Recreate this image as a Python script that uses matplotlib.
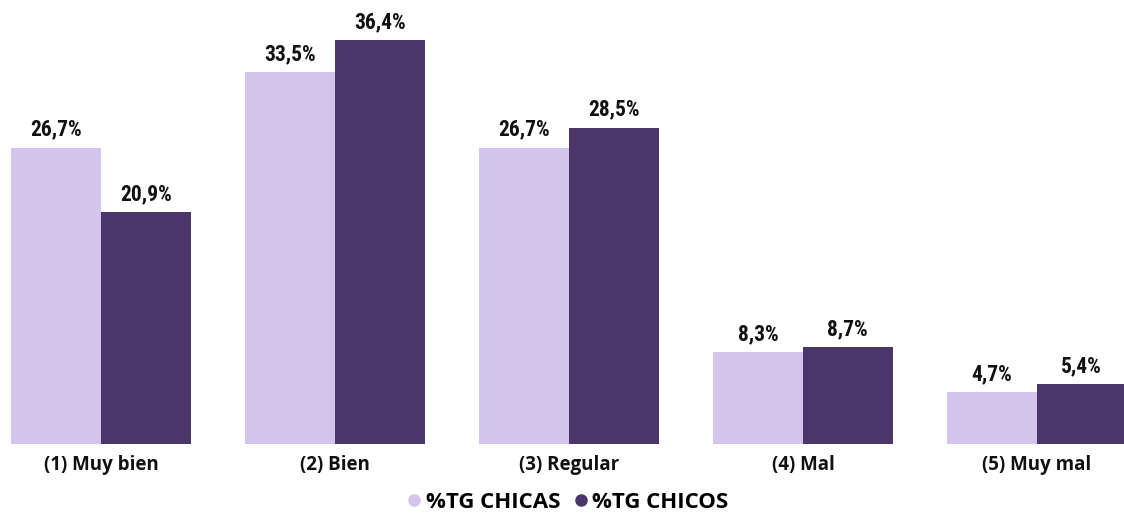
import numpy as np
import matplotlib.pyplot as plt
from matplotlib.lines import Line2D

categories = ["(1) Muy bien", "(2) Bien", "(3) Regular", "(4) Mal", "(5) Muy mal"]
chicas = [26.7, 33.5, 26.7, 8.3, 4.7]
chicos = [20.9, 36.4, 28.5, 8.7, 5.4]
series_names = ["%TG CHICAS", "%TG CHICOS"]
colors = ["#D2C4EA", "#4A3668"]

NUM_FONT = ["Roboto Condensed", "DejaVu Sans"]
TXT_FONT = ["Open Sans", "DejaVu Sans"]
plt.rcParams["font.family"] = TXT_FONT

fig = plt.figure(figsize=(11.24, 5.16), dpi=100)
ax = fig.add_axes([0, 0.1395, 1, 0.8605])

x = np.arange(len(categories))
w = 0.383

for vals, off, col in [(chicas, -w / 2, colors[0]), (chicos, w / 2, colors[1])]:
    bars = ax.bar(x + off, vals, width=w, color=col)
    for b, v in zip(bars, vals):
        ax.annotate(f"{v:.1f}%".replace(".", ","), (b.get_x() + b.get_width() / 2, v),
                    xytext=(0, 5), textcoords="offset points", ha="center", va="bottom",
                    family=NUM_FONT, fontsize=15.5, fontweight="bold", color="#111111")

ax.set_xlim(-0.432, 4.372)
ax.set_ylim(0, 40)
ax.set_xticks(x)
ax.set_xticklabels(categories, fontsize=13.5, fontweight="bold", color="#111111")
ax.tick_params(axis="x", length=0, pad=8)
ax.set_yticks([])
for s in ax.spines.values():
    s.set_visible(False)

handles = [Line2D([], [], marker="o", linestyle="", markersize=8, color=c) for c in colors]
fig.legend(handles, series_names, loc="center", bbox_to_anchor=(0.506, 0.026), ncol=2,
           frameon=False, handlelength=0.5, handletextpad=0.25, columnspacing=0.7,
           borderpad=0.1, prop={"family": TXT_FONT, "size": 16, "weight": "bold"})

fig.savefig("out.png", dpi=100)
